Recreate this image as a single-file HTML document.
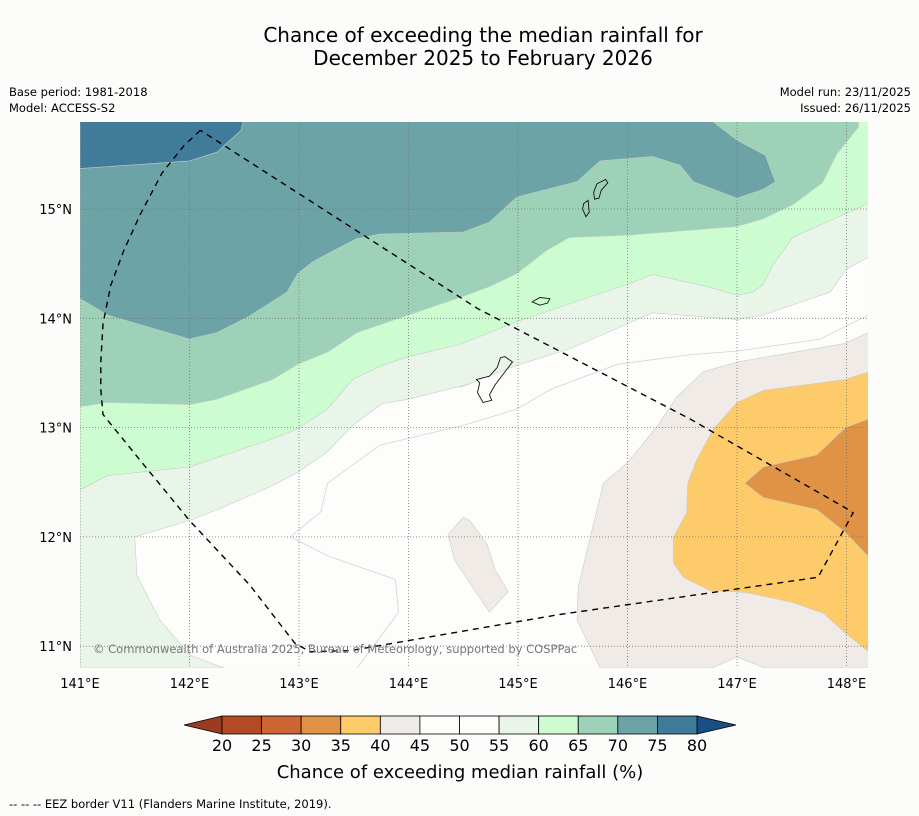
<!DOCTYPE html>
<html><head><meta charset="utf-8"><style>
body{margin:0;background:#fcfdfb;font-family:"DejaVu Sans","Liberation Sans",sans-serif}
svg{display:block;font-family:"DejaVu Sans","Liberation Sans",sans-serif}
</style></head><body>
<svg id="c" width="919" height="816" xmlns="http://www.w3.org/2000/svg">
<rect width="919" height="816" fill="#fcfdfb"/>
<text x="483" y="42" text-anchor="middle" font-size="20">Chance of exceeding the median rainfall for</text>
<text x="483" y="65" text-anchor="middle" font-size="20">December 2025 to February 2026</text>
<text x="9" y="96" font-size="11.5">Base period: 1981-2018</text>
<text x="9" y="112" font-size="11.5">Model: ACCESS-S2</text>
<text x="911" y="96" font-size="11.5" text-anchor="end">Model run: 23/11/2025</text>
<text x="911" y="112" font-size="11.5" text-anchor="end">Issued: 26/11/2025</text>
<defs><clipPath id="mc"><rect x="80" y="122" width="788" height="546"/></clipPath></defs>
<g id="map" clip-path="url(#mc)"></g>
<g id="axes"></g>
<g id="cbar"></g>
<text x="460" y="778" text-anchor="middle" font-size="18">Chance of exceeding median rainfall (%)</text>
<text x="9" y="808" font-size="11.5">--  --  -- EEZ border V11 (Flanders Marine Institute, 2019).</text>
</svg>
<script>
const lonTicks=[141,142,143,144,145,146,147,148];
const latTicks=[11,12,13,14,15];
const levels=[20,25,30,35,40,45,50,55,60,65,70,75,80];
const levelColors=["#b24a25","#cc6433","#e09344","#fdcb69","#f0ebe6","#fdfefc","#fdfefc","#eaf5ea","#ccfcd0","#9dd1b8","#6ca3a6","#417b9a"];
const underColor="#9a3c22", overColor="#1a4f86";

const band55=[[141,15.8],[148.2,15.8],[148.2,14.56],[148.0,14.45],[147.85,14.24],[147.24,14.03],[147.0,13.99],[146.73,14.01],[146.23,14.05],[145.47,13.72],[144.99,13.57],[144.47,13.37],[144.56,13.40],[144.0,13.26],[143.76,13.22],[143.49,13.02],[143.26,12.78],[142.99,12.59],[142.74,12.46],[142.28,12.26],[142.0,12.15],[141.5,12.0],[141.52,11.65],[141.73,11.24],[142.0,10.92],[142.32,10.8],[141,10.8]];
const band60=[[141,15.8],[148.2,15.8],[148.2,15.05],[147.82,14.88],[147.51,14.74],[147.33,14.49],[147.24,14.31],[147.15,14.24],[147.0,14.21],[146.73,14.29],[146.23,14.40],[146.0,14.31],[144.99,13.97],[144.47,13.76],[144.0,13.65],[143.76,13.57],[143.49,13.44],[143.26,13.17],[142.99,12.99],[142.74,12.89],[142.0,12.64],[141.25,12.56],[141,12.43]];
const band65=[[141,15.8],[148.11,15.8],[148.11,15.75],[147.91,15.50],[147.78,15.24],[147.51,15.04],[147.24,14.91],[147.0,14.84],[146.0,14.76],[145.47,14.74],[145.26,14.62],[144.99,14.41],[144.74,14.29],[144.47,14.19],[144.0,14.03],[143.53,13.87],[143.26,13.69],[142.99,13.58],[142.76,13.44],[142.25,13.26],[142.0,13.21],[141.25,13.23],[141,13.19]];
const band70=[[141,15.8],[146.78,15.8],[147.0,15.63],[147.26,15.49],[147.35,15.25],[147.24,15.18],[147.0,15.10],[146.60,15.25],[146.48,15.40],[146.23,15.48],[145.75,15.44],[145.54,15.25],[144.99,15.11],[144.74,14.88],[144.50,14.79],[143.74,14.77],[143.53,14.73],[143.26,14.59],[143.13,14.52],[142.99,14.41],[142.89,14.24],[142.53,14.01],[142.25,13.87],[142.0,13.81],[141.25,14.03],[141,14.18]];
const band75=[[141,15.8],[142.49,15.8],[142.47,15.72],[142.25,15.52],[142.0,15.44],[141,15.37]];
const band40=[[145.75,10.8],[145.54,11.24],[145.55,11.54],[145.78,12.49],[146.0,12.68],[146.27,13.01],[146.45,13.28],[146.69,13.51],[147.0,13.60],[147.99,13.77],[148.2,13.87],[148.2,10.8],[147.26,10.8],[147.0,10.90],[146.77,10.8]];
const band40b=[[144.50,12.18],[144.36,12.02],[144.42,11.79],[144.61,11.50],[144.74,11.31],[144.91,11.50],[144.79,11.70],[144.72,11.93],[144.56,12.15]];
const band35=[[147.0,13.23],[147.24,13.34],[147.99,13.44],[148.2,13.51],[148.2,10.8],[148.2,10.95],[147.99,11.12],[147.79,11.30],[147.51,11.40],[147.09,11.49],[146.75,11.51],[146.51,11.63],[146.42,11.76],[146.42,12.0],[146.54,12.22],[146.55,12.49],[146.63,12.70],[146.78,12.98]];
const band30=[[147.99,13.0],[148.2,13.08],[148.2,11.82],[147.99,12.04],[147.73,12.25],[147.24,12.36],[147.07,12.49],[147.24,12.64],[147.73,12.75]];
const line50a=[[142.92,12.0],[143.2,12.23],[143.26,12.49],[143.74,12.84],[144.5,13.02],[144.99,13.17],[145.3,13.35],[145.91,13.58],[146.6,13.67],[147.0,13.70],[147.76,13.81],[148.2,14.03]];
const line50b=[[142.92,12.0],[143.28,11.82],[143.88,11.61],[143.91,11.31],[143.53,10.8]];
const islandGuam=[[144.62,13.44],[144.74,13.47],[144.81,13.55],[144.84,13.64],[144.88,13.65],[144.95,13.60],[144.88,13.51],[144.79,13.39],[144.74,13.30],[144.76,13.25],[144.68,13.23],[144.63,13.32],[144.65,13.41]];
const islandRota=[[145.13,14.15],[145.2,14.19],[145.29,14.18],[145.27,14.14],[145.2,14.12]];
const islandSaipan=[[145.72,15.23],[145.8,15.27],[145.82,15.24],[145.76,15.17],[145.74,15.1],[145.7,15.09],[145.69,15.15]];
const islandTinian=[[145.6,15.05],[145.64,15.08],[145.65,14.97],[145.62,14.93],[145.59,15.0]];
const eez=[[142.10,15.72],[141.95,15.58],[141.75,15.33],[141.55,14.95],[141.40,14.62],[141.28,14.30],[141.21,13.95],[141.19,13.60],[141.19,13.35],[141.21,13.12],[141.55,12.70],[142.0,12.15],[142.55,11.56],[142.96,11.03],[143.1,10.95],[143.47,10.96],[145.38,11.29],[147.74,11.63],[148.06,12.22],[148.0,12.26],[146.57,13.08],[144.63,14.09],[142.10,15.72]];

const X=lon=>80+(lon-141)*109.5;
const Y=lat=>209-(lat-15)*109.3;
const NS="http://www.w3.org/2000/svg";
const map=document.getElementById('map'),axes=document.getElementById('axes'),cb=document.getElementById('cbar');
function mk(t,a,p){const e=document.createElementNS(NS,t);for(const k in a)e.setAttribute(k,a[k]);p.appendChild(e);return e;}
const pts=arr=>arr.map(p=>X(p[0]).toFixed(1)+','+Y(p[1]).toFixed(1)).join(' ');

let bg=mk('rect',{x:80,y:122,width:788,height:546,fill:'#fdfefc'},map);


const bands=[[band55,levelColors[7],'band-55-60'],[band60,levelColors[8],'band-60-65'],[band65,levelColors[9],'band-65-70'],[band70,levelColors[10],'band-70-75'],[band75,levelColors[11],'band-75-80'],[band40,levelColors[4],'band-40-45'],[band40b,levelColors[4],'band-40-45-small'],[band35,levelColors[3],'band-35-40'],[band30,levelColors[2],'band-30-35']];
bands.forEach(b=>{
 const e=mk('polygon',{points:pts(b[0]),fill:b[1],stroke:'#c8ccc8','stroke-width':0.6},map);
 
 
});
[line50a,line50b].forEach((l,i)=>{
 const e=mk('polyline',{points:pts(l),fill:'none',stroke:'#d2d2d2','stroke-width':0.8},map);
 
 
});
lonTicks.forEach(v=>{const e=mk('line',{x1:X(v),x2:X(v),y1:122,y2:668,stroke:'#777','stroke-width':0.8,'stroke-dasharray':'1,2'},map);
 
 });
latTicks.forEach(v=>{const e=mk('line',{x1:80,x2:868,y1:Y(v),y2:Y(v),stroke:'#777','stroke-width':0.8,'stroke-dasharray':'1,2'},map);
 
 });
[islandGuam,islandRota,islandSaipan,islandTinian].forEach(p=>{
 const e=mk('polygon',{points:pts(p),fill:'none',stroke:'#111','stroke-width':0.9},map);
 
 
});
let eezEl=mk('polyline',{points:pts(eez),fill:'none',stroke:'#000','stroke-width':1.4,'stroke-dasharray':'6,5'},map);


let cp=mk('text',{x:93,y:653,'font-size':11.5,fill:'#777'},map);cp.textContent='© Commonwealth of Australia 2025, Bureau of Meteorology, supported by COSPPac';



lonTicks.forEach(v=>{const t=mk('text',{x:X(v),y:688,'text-anchor':'middle','font-size':13},axes);t.textContent=v+'°E';
 
 });
latTicks.forEach(v=>{const t=mk('text',{x:72,y:Y(v)+5,'text-anchor':'end','font-size':13},axes);t.textContent=v+'°N';
 
 });

const cx0=222,cx1=697,cy=716,ch=18,sw=(cx1-cx0)/levelColors.length;
let tl=mk('polygon',{points:`${cx0},${cy} ${cx0},${cy+ch} 184,${cy+ch/2}`,fill:underColor,stroke:'#000','stroke-width':0.8},cb);


let tr=mk('polygon',{points:`${cx1},${cy} ${cx1},${cy+ch} 736,${cy+ch/2}`,fill:overColor,stroke:'#000','stroke-width':0.8},cb);


levelColors.forEach((c,i)=>{const r=mk('rect',{x:cx0+i*sw,y:cy,width:sw,height:ch,fill:c,stroke:'#000','stroke-width':0.8},cb);
 
 });
levels.forEach((v,i)=>{const t=mk('text',{x:cx0+i*sw,y:751,'text-anchor':'middle','font-size':16},cb);t.textContent=v;
 
 });
</script>
</body></html>
